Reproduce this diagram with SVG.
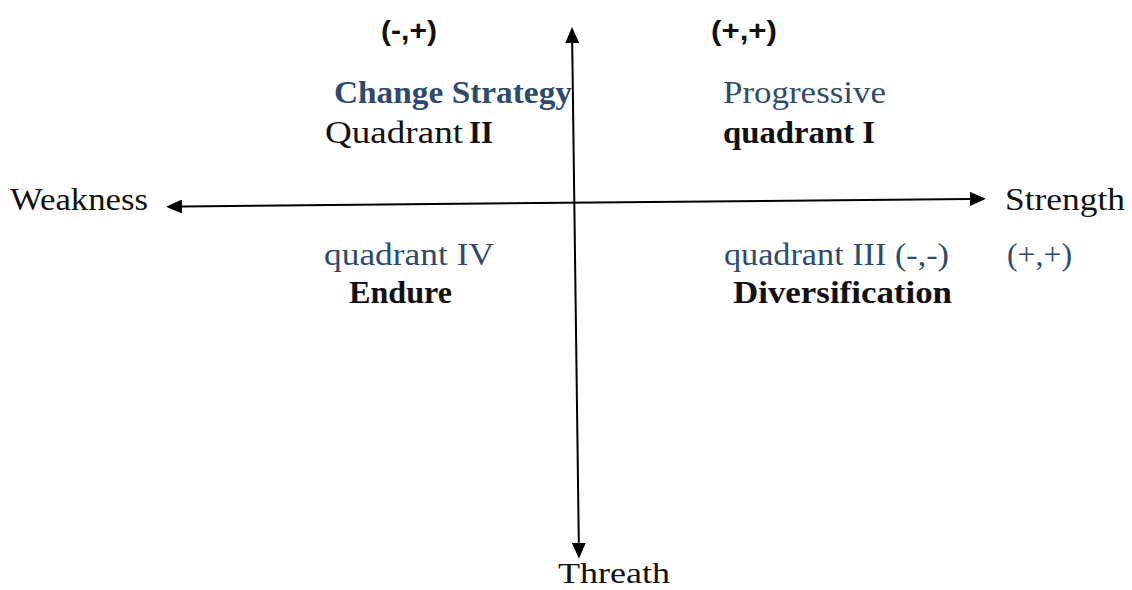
<svg xmlns="http://www.w3.org/2000/svg" width="1132" height="590" viewBox="0 0 1132 590">
<style>
.s{font-family:"Liberation Serif","Times New Roman",serif;font-size:31px;fill:#111}
.b{font-weight:bold}
.blue{fill:#2f4b6c}
.sans{font-family:"Liberation Sans",Arial,sans-serif;font-size:27px;font-weight:bold;fill:#111}
.axis{stroke:#000;stroke-width:2;fill:none}
</style>
<defs>
<marker id="ah" viewBox="0 -7 16 14" markerWidth="16" markerHeight="14" refX="0" refY="0" markerUnits="userSpaceOnUse" orient="auto-start-reverse">
<path d="M0,-7 L16,0 L0,7 z" fill="#000"/>
</marker>
</defs>
<g id="connectors">
<line class="axis" x1="182" y1="206.5" x2="970" y2="198.9" marker-start="url(#ah)" marker-end="url(#ah)"/>
<line class="axis" x1="572.2" y1="43" x2="578.8" y2="542.7" marker-start="url(#ah)" marker-end="url(#ah)"/>
</g>
<g id="top-left-sign"><text class="sans" x="381" y="40" textLength="56" lengthAdjust="spacingAndGlyphs">(-,+)</text></g>
<g id="top-right-sign"><text class="sans" x="711" y="40" textLength="66" lengthAdjust="spacingAndGlyphs">(+,+)</text></g>
<g id="quadrant-2">
<text class="s b blue" x="334" y="103" textLength="238" lengthAdjust="spacingAndGlyphs">Change Strategy</text>
<text class="s" x="325" y="143" textLength="138" lengthAdjust="spacingAndGlyphs">Quadrant</text>
<text class="s b" x="469" y="143" textLength="24" lengthAdjust="spacingAndGlyphs">II</text>
</g>
<g id="quadrant-1">
<text class="s blue" x="723" y="103" textLength="163" lengthAdjust="spacingAndGlyphs">Progressive</text>
<text class="s b" x="723" y="143" textLength="152" lengthAdjust="spacingAndGlyphs">quadrant I</text>
</g>
<g id="weakness"><text class="s" x="10" y="210" textLength="138" lengthAdjust="spacingAndGlyphs">Weakness</text></g>
<g id="strength"><text class="s" x="1005" y="210" textLength="120" lengthAdjust="spacingAndGlyphs">Strength</text></g>
<g id="quadrant-4">
<text class="s blue" x="324" y="265" textLength="170" lengthAdjust="spacingAndGlyphs">quadrant IV</text>
<text class="s b" x="349" y="303" textLength="103" lengthAdjust="spacingAndGlyphs">Endure</text>
</g>
<g id="quadrant-3">
<text class="s blue" x="724" y="265" textLength="225" lengthAdjust="spacingAndGlyphs">quadrant III (-,-)</text>
<text class="s blue" x="1007" y="265" textLength="65" lengthAdjust="spacingAndGlyphs">(+,+)</text>
<text class="s b" x="733" y="303" textLength="219" lengthAdjust="spacingAndGlyphs">Diversification</text>
</g>
<g id="threath"><text class="s" x="558" y="583" style="font-size:30px" textLength="112" lengthAdjust="spacingAndGlyphs">Threath</text></g>
</svg>
